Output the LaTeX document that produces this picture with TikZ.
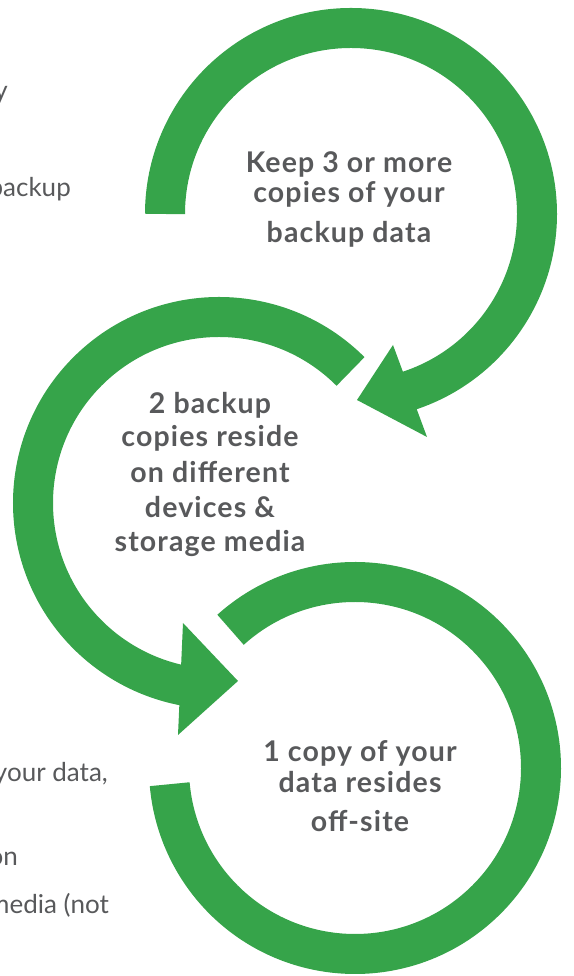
\documentclass[tikz,border=0pt]{standalone}
\usepackage{fontspec}
\setmainfont{Lato}
\newfontfamily\lblfont[LetterSpace=4]{Lato}
\definecolor{grn}{RGB}{54,164,74}
\definecolor{txt}{RGB}{88,89,91}
\begin{document}
\begin{tikzpicture}[x=1pt,y=1pt,
  ring/.style={draw=grn,line width=40pt,line cap=butt},
  head/.style={fill=grn},
  lbl/.style={text=txt,font=\lblfont\bfseries\fontsize{28.5}{30}\selectfont,anchor=base,inner sep=0pt},
  side/.style={text=txt,font=\fontsize{26}{30}\selectfont,anchor=base east,inner sep=0pt}]
\useasboundingbox (0,0) rectangle (573,976);
\clip (0,0) rectangle (573,976);
% centres
\coordinate (c1) at (351,762);
\coordinate (c2) at (219,473);
\coordinate (c3) at (355,208);
% arrow 1
\draw[ring] ([shift={(180:186)}]c1) arc[start angle=180,end angle=-72.5,radius=186];
\coordinate (h1a) at (393,631);
\coordinate (h1t) at (357,576);
\coordinate (h1b) at (427,539);
\fill[head] (h1a) -- (h1t) -- (h1b) -- cycle;
% arrow 2
\draw[ring] ([shift={(45:186)}]c2) arc[start angle=45,end angle=260,radius=186];
\coordinate (h2a) at (183,353);
\coordinate (h2t) at (238,295);
\coordinate (h2b) at (178,241);
\fill[head] (h2a) -- (h2t) -- (h2b) -- cycle;
% ring 3
\draw[ring] ([shift={(132:186)}]c3) arc[start angle=132,end angle=-175,radius=186];
% labels
\node[lbl] (t1a) at (349,803) {Keep 3 or more};
\node[lbl] (t1b) at (349,773) {copies of your};
\node[lbl] (t1c) at (349,733) {backup data};
\node[lbl] (t2a) at (210,562) {2 backup};
\node[lbl] (t2b) at (210,529) {copies reside};
\node[lbl] (t2c) at (210,493) {on different};
\node[lbl] (t2d) at (210,458) {devices \&};
\node[lbl] (t2e) at (210,424) {storage media};
\node[lbl] (t3a) at (360,214) {1 copy of your};
\node[lbl] (t3b) at (360,183) {data resides};
\node[lbl] (t3c) at (360,144) {off-site};
% cut-off side text
\node[side] (s1) at (8,876) {y};
\node[side] (s2) at (71,779) {backup};
\node[side] (s3) at (108,194) {your data,};
\node[side] (s4) at (18,110) {on};
\node[side] (s5) at (109,62) {media (not};
\end{tikzpicture}
\end{document}
